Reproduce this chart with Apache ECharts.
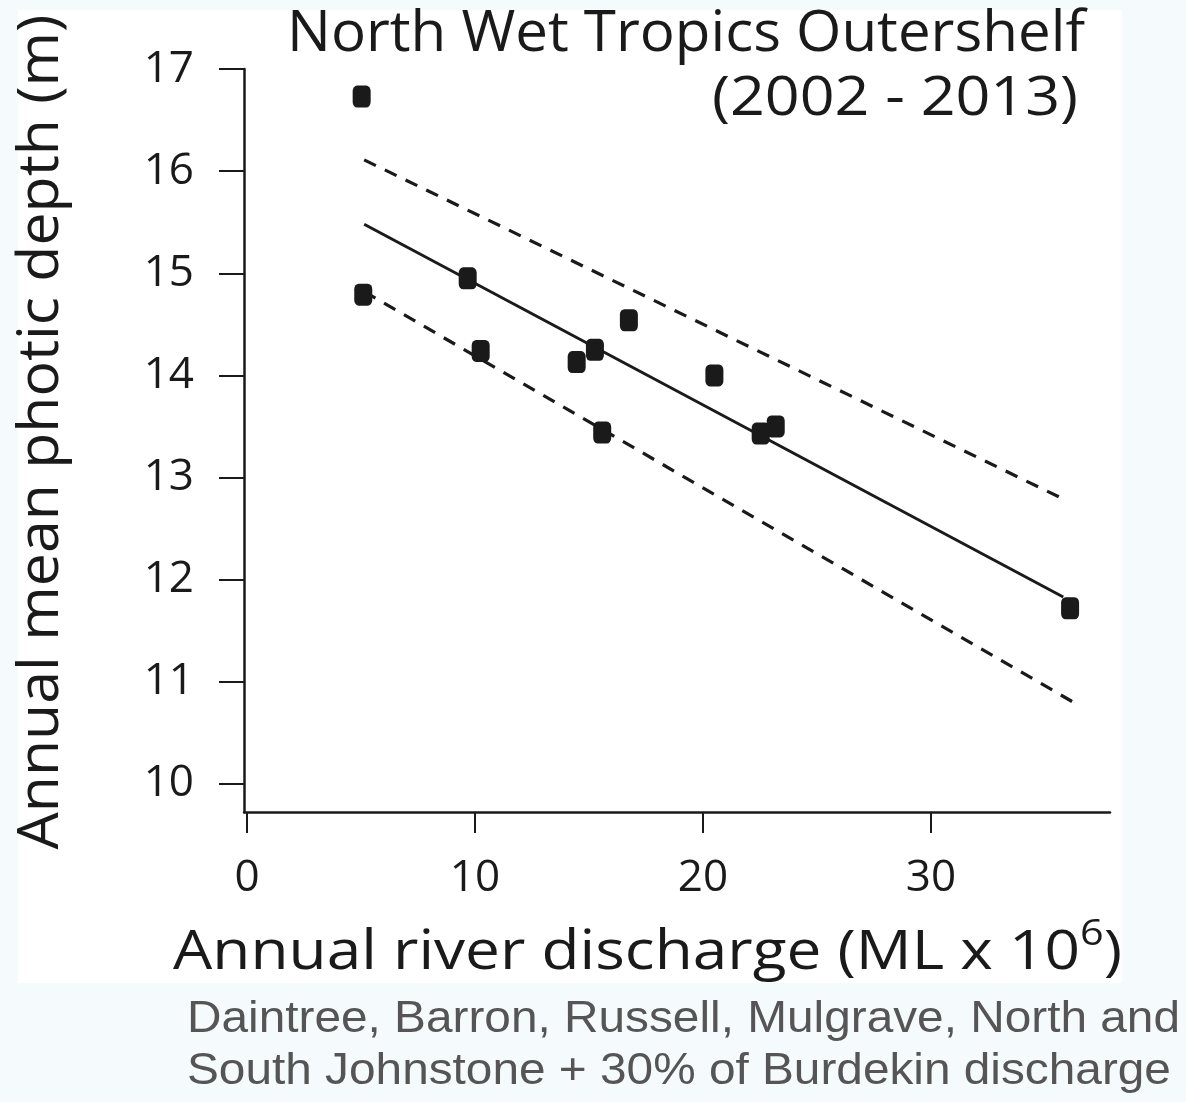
<!DOCTYPE html>
<html>
<head>
<meta charset="utf-8">
<script src="https://cdn.jsdelivr.net/npm/echarts@6/dist/echarts.min.js"></script>
<style>
    html, body { margin: 0; padding: 0; background: #f5fafd; }
    #chart { width: 1186px; height: 1102px; }
</style>
</head>
<body>
<div id="chart"></div>
<script>
// Values
const discharge = [5.03, 5.10, 9.68, 10.25, 14.46, 15.26, 15.58, 16.75, 20.50, 22.53, 23.19, 36.10];
const photicDepth = [16.73, 14.79, 14.95, 14.24, 14.13, 14.25, 13.44, 14.54, 14.00, 13.43, 13.50, 11.72];

// Regression line and its confidence limits (end points)
const fitLine = [[5.14, 15.48], [35.80, 11.83]];
const upperBand = [[5.14, 16.11], [35.80, 12.79]];
const lowerBand = [[5.14, 14.82], [36.24, 10.80]];

// Tick labels
const xTicks = [0, 10, 20, 30];
const yTicks = [10, 11, 12, 13, 14, 15, 16, 17];

// Texts
const titleText = 'North Wet Tropics Outershelf';
const subtitleText = '(2002 - 2013)';
const yAxisTitle = 'Annual mean photic depth (m)';
const xAxisTitle = ['Annual river discharge (ML x 10', '6', ')'];
const footerLines = [
    'Daintree, Barron, Russell, Mulgrave, North and',
    'South Johnstone + 30% of Burdekin discharge'
];

const ink = '#1a1a1a';
const axisFont = '"Open Sans"';
const footerFont = '"Liberation Sans"';

// Measure text so the titles can be fitted to the width they take in the figure
const measureCtx = document.createElement('canvas').getContext('2d');
function measure(text, size, family) {
    measureCtx.font = `${size}px ${family}`;
    return measureCtx.measureText(text).width;
}

const titleScale = 798 / measure(titleText, 56, axisFont);
const subtitleScale = 366 / measure(subtitleText, 54, axisFont);
const yTitleScale = 835 / measure(yAxisTitle, 57, axisFont);
const xParts = [
    measure(xAxisTitle[0], 54, axisFont),
    measure(xAxisTitle[1], 36, axisFont),
    measure(xAxisTitle[2], 54, axisFont)
];
const xTitleScale = 949 / (xParts[0] + xParts[1] + xParts[2]);
const footerScale = 993 / measure(footerLines[0], 45, footerFont);

const chart = echarts.init(document.getElementById('chart'));

const option = {
    backgroundColor: '#f5fafd',
    animation: false,
    grid: {
        left: 244,
        top: 69,
        width: 866,
        height: 743
    },
    xAxis: {
        type: 'value',
        min: -0.13,
        max: 37.85,
        axisLine: {
            show: true,
            onZero: false,
            lineStyle: { color: ink, width: 2.5 }
        },
        axisTick: {
            show: true,
            length: 21,
            customValues: xTicks,
            lineStyle: { color: ink, width: 2 }
        },
        axisLabel: {
            customValues: xTicks,
            margin: 44,
            color: ink,
            fontFamily: axisFont,
            fontSize: 44
        },
        splitLine: { show: false }
    },
    yAxis: {
        type: 'value',
        min: 9.725,
        max: 17,
        axisLine: {
            show: true,
            onZero: false,
            lineStyle: { color: ink, width: 2.5 }
        },
        axisTick: {
            show: true,
            length: 25,
            customValues: yTicks,
            lineStyle: { color: ink, width: 2 }
        },
        axisLabel: {
            customValues: yTicks,
            margin: 50,
            color: ink,
            fontFamily: axisFont,
            fontSize: 44
        },
        splitLine: { show: false }
    },
    graphic: {
        elements: [
            {
                type: 'rect',
                z: -10,
                shape: { x: 18, y: 10, width: 1104, height: 973 },
                style: { fill: '#ffffff' }
            },
            {
                type: 'text',
                x: 287,
                y: 35,
                scaleX: titleScale,
                style: {
                    text: titleText,
                    fontSize: 56,
                    fontFamily: axisFont,
                    fill: ink,
                    align: 'left',
                    verticalAlign: 'middle'
                }
            },
            {
                type: 'text',
                x: 1078,
                y: 100,
                scaleX: subtitleScale,
                style: {
                    text: subtitleText,
                    fontSize: 54,
                    fontFamily: axisFont,
                    fill: ink,
                    align: 'right',
                    verticalAlign: 'middle'
                }
            },
            {
                type: 'text',
                x: 42,
                y: 432,
                rotation: Math.PI / 2,
                scaleX: yTitleScale,
                style: {
                    text: yAxisTitle,
                    fontSize: 57,
                    fontFamily: axisFont,
                    fill: ink,
                    align: 'center',
                    verticalAlign: 'middle'
                }
            },
            {
                type: 'group',
                x: 173,
                y: 954,
                scaleX: xTitleScale,
                children: [
                    {
                        type: 'text',
                        x: 0,
                        y: 0,
                        style: {
                            text: xAxisTitle[0],
                            fontSize: 54,
                            fontFamily: axisFont,
                            fill: ink,
                            align: 'left',
                            verticalAlign: 'middle'
                        }
                    },
                    {
                        type: 'text',
                        x: xParts[0],
                        y: -19,
                        style: {
                            text: xAxisTitle[1],
                            fontSize: 36,
                            fontFamily: axisFont,
                            fill: ink,
                            align: 'left',
                            verticalAlign: 'middle'
                        }
                    },
                    {
                        type: 'text',
                        x: xParts[0] + xParts[1],
                        y: 0,
                        style: {
                            text: xAxisTitle[2],
                            fontSize: 54,
                            fontFamily: axisFont,
                            fill: ink,
                            align: 'left',
                            verticalAlign: 'middle'
                        }
                    }
                ]
            },
            ...footerLines.map((line, i) => ({
                type: 'text',
                x: 187,
                y: 1020 + i * 52,
                scaleX: footerScale,
                style: {
                    text: line,
                    fontSize: 45,
                    fontFamily: footerFont,
                    fill: '#555555',
                    align: 'left',
                    verticalAlign: 'middle'
                }
            }))
        ]
    },
    series: [
        {
            name: 'Upper limit',
            type: 'line',
            data: upperBand,
            symbol: 'none',
            lineStyle: { color: ink, width: 3.2, type: [13, 10] }
        },
        {
            name: 'Lower limit',
            type: 'line',
            data: lowerBand,
            symbol: 'none',
            lineStyle: { color: ink, width: 3.2, type: [13, 10] }
        },
        {
            name: 'Fit',
            type: 'line',
            data: fitLine,
            symbol: 'none',
            lineStyle: { color: ink, width: 3 }
        },
        {
            name: 'Years',
            type: 'scatter',
            z: 5,
            data: discharge.map((x, i) => [x, photicDepth[i]]),
            symbol: 'roundRect',
            symbolSize: [18, 22],
            itemStyle: { color: ink, opacity: 1 }
        }
    ]
};

chart.setOption(option);
</script>
</body>
</html>
